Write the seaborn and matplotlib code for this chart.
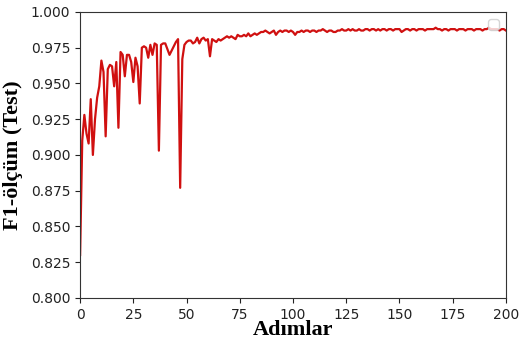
import matplotlib
matplotlib.use("Agg")
import matplotlib.pyplot as plt
import seaborn as sns
import pandas as pd

steps = list(range(0, 201))
f1_scores = [
    0.830, 0.910, 0.928, 0.915, 0.908, 0.939, 0.900, 0.925, 0.940, 0.948,
    0.966, 0.958, 0.913, 0.960, 0.963, 0.962, 0.948, 0.965, 0.919, 0.972,
    0.970, 0.955, 0.970, 0.970, 0.965, 0.951, 0.968, 0.962, 0.936, 0.975,
    0.976, 0.975, 0.968, 0.977, 0.970, 0.978, 0.977, 0.903, 0.977, 0.978,
    0.978, 0.974, 0.970, 0.973, 0.976, 0.979, 0.981, 0.877, 0.967, 0.977,
    0.979, 0.980, 0.980, 0.978, 0.979, 0.982, 0.978, 0.981, 0.982, 0.980,
    0.981, 0.969, 0.981, 0.980, 0.979, 0.981, 0.980, 0.981, 0.982, 0.983,
    0.982, 0.983, 0.982, 0.981, 0.984, 0.983, 0.983, 0.984, 0.983, 0.985,
    0.983, 0.984, 0.985, 0.984, 0.985, 0.986, 0.986, 0.987, 0.986, 0.985,
    0.986, 0.987, 0.984, 0.986, 0.987, 0.986, 0.987, 0.987, 0.986, 0.987,
    0.986, 0.984, 0.986, 0.986, 0.987, 0.986, 0.987, 0.987, 0.986, 0.987,
    0.987, 0.986, 0.987, 0.987, 0.988, 0.987, 0.986, 0.987, 0.987, 0.986,
    0.986, 0.987, 0.987, 0.988, 0.987, 0.987, 0.988, 0.987, 0.988, 0.987,
    0.987, 0.988, 0.987, 0.987, 0.988, 0.988, 0.987, 0.988, 0.988, 0.987,
    0.988, 0.987, 0.988, 0.988, 0.987, 0.988, 0.988, 0.987, 0.988, 0.988,
    0.988, 0.986, 0.987, 0.988, 0.988, 0.987, 0.988, 0.988, 0.987, 0.988,
    0.988, 0.988, 0.987, 0.988, 0.988, 0.988, 0.988, 0.989, 0.988, 0.988,
    0.987, 0.988, 0.988, 0.987, 0.988, 0.988, 0.988, 0.987, 0.988, 0.988,
    0.988, 0.987, 0.988, 0.988, 0.988, 0.987, 0.988, 0.988, 0.988, 0.987,
    0.988, 0.988, 0.989, 0.988, 0.988, 0.988, 0.988, 0.987, 0.988, 0.988,
    0.987,
]
x_label = "Adımlar"
y_label = "F1-ölçüm (Test)"

df = pd.DataFrame({"step": steps, "f1": f1_scores})

fig = plt.figure(figsize=(5.27, 3.42), dpi=100)
ax = fig.add_axes([0.152, 0.129, 0.808, 0.836])
sns.lineplot(data=df, x="step", y="f1", ax=ax, color="#d01010", linewidth=1.6)

ax.set_xlim(0, 200)
ax.set_ylim(0.8, 1.0)
ax.set_xticks([0, 25, 50, 75, 100, 125, 150, 175, 200])
ax.set_yticks([0.8, 0.825, 0.85, 0.875, 0.9, 0.925, 0.95, 0.975, 1.0])
ax.set_yticklabels([f"{v:.3f}" for v in [0.8, 0.825, 0.85, 0.875, 0.9, 0.925, 0.95, 0.975, 1.0]])
ax.tick_params(labelsize=10, colors="#222222")
ax.set_xlabel(x_label, family="Liberation Serif", fontweight="bold", fontsize=16, labelpad=-1)
ax.set_ylabel(y_label, family="Liberation Serif", fontweight="bold", fontsize=16, labelpad=6)
for s in ax.spines.values():
    s.set_color("#333333")
ax.legend(handles=[], loc="upper right")

fig.savefig("out.png", dpi=100)
